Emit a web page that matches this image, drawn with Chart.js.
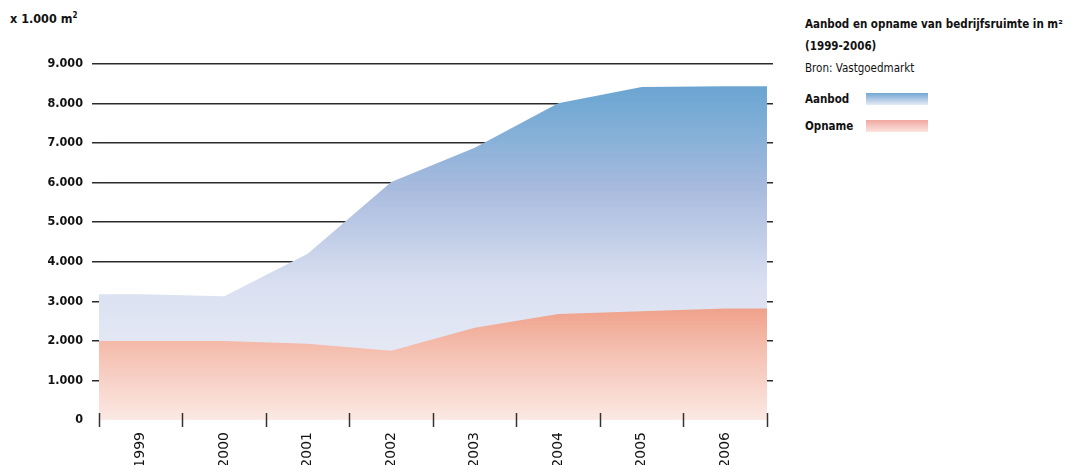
<!doctype html>
<html lang="nl">

<head>
    <meta charset="utf-8">
    <title>Aanbod en opname van bedrijfsruimte</title>
    <script src="https://cdn.jsdelivr.net/npm/chart.js"></script>
    <style>
        body { margin: 0; background: #fff; overflow: hidden; width: 1081px; height: 465px; position: relative; }
        body { font-family: "DejaVu Sans", sans-serif; font-stretch: condensed; color: #111; }
        #chartBox { position: absolute; left: 0; top: 0; width: 800px; height: 480px; }
        .unit { position: absolute; left: 10px; top: 11px; font-size: 12.5px; font-weight: bold; }
        .side { position: absolute; left: 805px; top: 13px; font-size: 11.5px; line-height: 22px; white-space: nowrap; }
        .leg { position: absolute; left: 805px; font-size: 11.5px; font-weight: bold; }
        .sw { position: absolute; left: 866px; width: 62px; height: 12px; }
    </style>
</head>

<body>
    <div class="unit">x 1.000 m<sup style="font-size:8px">2</sup></div>
    <div class="side">
        <b>Aanbod en opname van bedrijfsruimte in m²</b><br>
        <b>(1999-2006)</b><br>
        Bron: Vastgoedmarkt
    </div>
    <div class="leg" style="top:92px">Aanbod</div>
    <div class="sw" style="top:93px;background:linear-gradient(#72a8d2,#e6e9f5)"></div>
    <div class="leg" style="top:119px">Opname</div>
    <div class="sw" style="top:120px;background:linear-gradient(#f0a8a0,#fbe4e0)"></div>

    <div id="chartBox"><canvas id="areaChart"></canvas></div>

    <script>
        // data (x 1.000 m2)
        const years = ['1999', '2000', '2001', '2002', '2003', '2004', '2005', '2006'];
        const aanbod = [3180, 3130, 4200, 6020, 6880, 8010, 8420, 8440];
        const opname = [2000, 2000, 1930, 1750, 2330, 2680, 2750, 2820];
        const yTicks = [0, 1000, 2000, 3000, 4000, 5000, 6000, 7000, 8000, 9000];

        const fontFam = '"DejaVu Sans", sans-serif';

        // each year sits in the middle of its slot, area runs from edge to edge
        function toPoints(values) {
            const pts = values.map((v, i) => ({ x: i + 0.5, y: v }));
            pts.unshift({ x: 0, y: values[0] });
            pts.push({ x: values.length, y: values[values.length - 1] });
            return pts;
        }

        function blueFill(ctx) {
            const area = ctx.chart.chartArea;
            if (!area) return '#b0c0e0';
            const g = ctx.chart.ctx.createLinearGradient(0, area.top, 0, area.bottom);
            g.addColorStop(0, '#639fcf');
            g.addColorStop(0.12, '#74aad4');
            g.addColorStop(0.35, '#a8bbde');
            g.addColorStop(0.62, '#dae0f1');
            g.addColorStop(1, '#f0f2f9');
            return g;
        }

        function redFill(ctx) {
            const area = ctx.chart.chartArea;
            if (!area) return '#f5c0b0';
            const y = ctx.chart.scales.y;
            const g = ctx.chart.ctx.createLinearGradient(0, y.getPixelForValue(2900), 0, area.bottom);
            g.addColorStop(0, '#ef9f88');
            g.addColorStop(0.4, '#f5c0b1');
            g.addColorStop(1, '#fbe9e4');
            return g;
        }

        // condensed lettering on the canvas too
        const narrowText = {
            id: 'narrowText',
            beforeLayout(chart) { chart.ctx.fontStretch = 'condensed'; },
            beforeDraw(chart) { chart.ctx.fontStretch = 'condensed'; }
        };

        // tick marks crossing the baseline
        const slotTicks = {
            id: 'slotTicks',
            afterDatasetsDraw(chart) {
                const c = chart.ctx, xs = chart.scales.x, b = chart.chartArea.bottom;
                c.save();
                c.strokeStyle = '#333';
                c.lineWidth = 1.5;
                for (let i = 0; i <= years.length; i++) {
                    const px = Math.round(xs.getPixelForValue(i)) + 0.5;
                    c.beginPath();
                    c.moveTo(px, b - 7);
                    c.lineTo(px, b + 7);
                    c.stroke();
                }
                c.restore();
            }
        };

        const config = {
            type: 'line',
            data: {
                datasets: [
                    {
                        label: 'Aanbod',
                        data: toPoints(aanbod),
                        fill: 'origin',
                        backgroundColor: blueFill,
                        borderWidth: 0,
                        pointRadius: 0,
                        tension: 0,
                        order: 2
                    },
                    {
                        label: 'Opname',
                        data: toPoints(opname),
                        fill: 'origin',
                        backgroundColor: redFill,
                        borderWidth: 0,
                        pointRadius: 0,
                        tension: 0,
                        order: 1
                    }
                ]
            },
            options: {
                responsive: true,
                maintainAspectRatio: false,
                animation: false,
                layout: { padding: { top: 64, right: 27, left: 0, bottom: 0 } },
                plugins: {
                    legend: { display: false },
                    tooltip: { enabled: false }
                },
                scales: {
                    x: {
                        type: 'linear',
                        min: 0,
                        max: years.length + 0.072,
                        afterBuildTicks: (s) => { s.ticks = years.map((_, i) => ({ value: i + 0.5 })); },
                        afterFit: (s) => { s.height = 60; },
                        grid: { display: false },
                        border: { display: false },
                        ticks: {
                            autoSkip: false,
                            minRotation: 90,
                            maxRotation: 90,
                            padding: 4,
                            color: '#111',
                            font: { family: fontFam, size: 14 },
                            callback: (v, i) => years[i]
                        }
                    },
                    y: {
                        min: 0,
                        max: 9000,
                        afterBuildTicks: (s) => { s.ticks = yTicks.map(v => ({ value: v })); },
                        afterFit: (s) => { s.width = 99; },
                        border: { display: false },
                        grid: {
                            color: (ctx) => ctx.tick && ctx.tick.value === 0 ? 'rgba(0,0,0,0)' : '#2b2b2b',
                            lineWidth: 1.5,
                            drawTicks: true,
                            tickLength: 7
                        },
                        ticks: {
                            padding: 9,
                            color: '#111',
                            font: { family: fontFam, size: 12.5, weight: 'bold' },
                            callback: (v) => v === 0 ? '0' : (v / 1000).toFixed(0) + '.000'
                        }
                    }
                }
            },
            plugins: [narrowText, slotTicks]
        };

        const chart = new Chart(document.getElementById('areaChart'), config);
    </script>
</body>

</html>
